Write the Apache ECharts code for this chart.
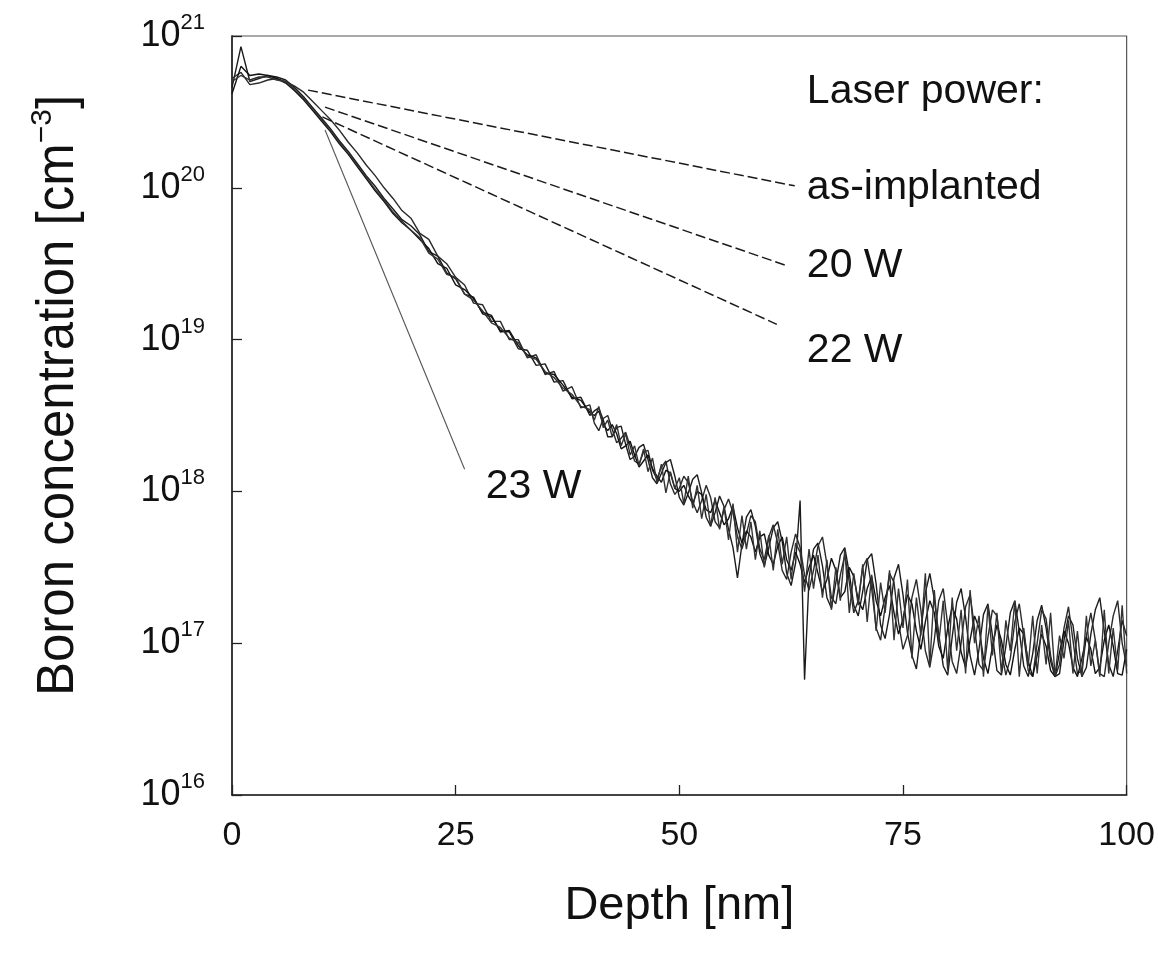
<!DOCTYPE html>
<html>
<head>
<meta charset="utf-8">
<script src="https://cdn.jsdelivr.net/npm/echarts@6/dist/echarts.min.js"></script>
<style>
  html, body { margin: 0; padding: 0; background: #fff; }
  #main { width: 1158px; height: 958px; }
</style>
</head>
<body>
<div id="main"></div>
<script>
// depth grid [nm]
var depth = [0,1,2,3,4,5,6,7,8,9,10,11,12,13,14,15,16,17,18,19,20,21,22,23,24,25,26,27,28,29,30,31,32,33,34,35,36,37,38,39,40,
  40.5,41,41.5,42,42.5,43,43.5,44,44.5,45,
  45.5,46,46.5,47,47.5,48,48.5,49,49.5,50,
  50.5,51,51.5,52,52.5,53,53.5,54,54.5,55,
  55.5,56,56.5,57,57.5,58,58.5,59,59.5,60,
  60.5,61,61.5,62,62.5,63,63.5,64,64.5,65,
  65.5,66,66.5,67,67.5,68,68.5,69,69.5,70,
  70.5,71,71.5,72,72.5,73,73.5,74,74.5,75,
  75.5,76,76.5,77,77.5,78,78.5,79,79.5,80,
  80.5,81,81.5,82,82.5,83,83.5,84,84.5,85,
  85.5,86,86.5,87,87.5,88,88.5,89,89.5,90,
  90.5,91,91.5,92,92.5,93,93.5,94,94.5,95,
  95.5,96,96.5,97,97.5,98,98.5,99,99.5,100];

// log10 of boron concentration
var logA = [20.66,20.93,20.70,20.72,20.74,20.73,20.71,20.66,20.60,20.53,20.46,20.39,20.31,20.24,20.16,20.08,20.01,19.93,19.86,19.79,
  19.75,19.69,19.58,19.55,19.44,19.40,19.30,19.28,19.17,19.15,19.06,19.05,18.94,18.93,18.83,18.84,18.72,18.73,18.61,18.62,18.50,
  18.53,18.55,18.47,18.36,18.36,18.42,18.43,18.31,18.21,18.23,
  18.29,18.31,18.21,18.09,18.05,18.12,18.19,18.21,18.10,17.96,
  17.91,17.99,18.08,18.11,17.99,17.83,17.77,17.86,17.97,17.90,
  17.75,17.63,17.43,17.65,17.83,17.88,17.77,17.59,17.51,17.63,
  17.76,17.80,17.67,17.46,17.38,17.53,17.94,16.76,17.43,17.62,
  17.66,17.51,17.30,17.23,17.40,17.58,17.63,17.46,17.25,17.18,
  17.34,17.55,17.59,17.39,17.12,17.03,17.19,17.43,17.52,17.32,
  17.07,16.92,16.83,17.08,17.33,17.46,17.29,17.06,16.85,16.79,
  17.04,17.27,17.36,17.17,16.92,16.79,16.96,17.19,17.26,17.05,
  16.82,16.79,16.98,17.20,17.28,17.08,16.85,16.78,16.93,17.15,
  17.25,17.10,16.88,16.78,16.80,17.02,17.18,17.12,16.90,16.78,
  16.84,17.06,17.22,17.30,17.08,16.86,16.78,16.95,17.15,17.05];

var logB = [20.72,20.76,20.68,20.69,20.71,20.72,20.70,20.67,20.63,20.57,20.51,20.45,20.38,20.30,20.23,20.15,20.08,20.00,19.93,19.85,
  19.80,19.70,19.66,19.55,19.50,19.41,19.36,19.24,19.23,19.12,19.12,19.00,19.00,18.88,18.90,18.77,18.79,18.66,18.69,18.55,18.57,
  18.45,18.40,18.48,18.50,18.41,18.32,18.35,18.39,18.30,18.20,
  18.18,18.26,18.27,18.14,18.08,18.16,18.20,18.05,17.98,18.02,
  18.10,18.06,17.93,17.86,17.94,18.04,17.96,17.80,17.76,17.88,
  17.95,17.86,17.70,17.62,17.72,17.84,17.80,17.62,17.55,17.70,
  17.78,17.66,17.48,17.42,17.60,17.72,17.63,17.45,17.35,17.48,
  17.64,17.70,17.52,17.30,17.26,17.45,17.58,17.40,17.20,17.28,
  17.50,17.56,17.36,17.10,17.02,17.24,17.46,17.40,17.14,16.96,
  17.05,17.30,17.42,17.22,16.95,16.84,17.02,17.28,17.36,17.12,
  16.88,16.80,17.00,17.24,17.32,17.10,16.86,16.82,17.04,17.22,
  17.18,16.95,16.79,16.90,17.14,17.26,17.05,16.82,16.78,17.00,
  17.22,17.16,16.92,16.78,16.86,17.10,17.24,17.02,16.80,16.82,
  17.05,17.20,17.02,16.80,16.78,17.00,17.18,17.28,17.00,16.85];

var logC = [20.62,20.80,20.74,20.75,20.74,20.72,20.69,20.64,20.58,20.51,20.44,20.37,20.29,20.22,20.14,20.06,19.98,19.91,19.83,19.77,
  19.72,19.66,19.60,19.50,19.47,19.36,19.33,19.27,19.18,19.16,19.05,19.06,18.96,18.90,18.88,18.78,18.77,18.70,18.62,18.60,18.52,
  18.50,18.53,18.44,18.40,18.44,18.38,18.28,18.30,18.33,18.24,
  18.16,18.20,18.24,18.15,18.10,18.06,18.14,18.12,18.02,18.00,
  18.04,17.97,17.92,18.00,17.98,17.88,17.86,17.94,17.86,17.78,
  17.82,17.90,17.76,17.66,17.74,17.70,17.60,17.70,17.72,17.58,
  17.52,17.64,17.70,17.55,17.48,17.60,17.52,17.40,17.50,17.58,
  17.46,17.34,17.42,17.56,17.48,17.30,17.34,17.50,17.44,17.28,
  17.22,17.36,17.44,17.28,17.18,17.30,17.38,17.20,17.06,17.16,
  17.32,17.26,17.08,16.96,17.14,17.28,17.20,16.98,16.90,17.10,
  17.24,17.16,16.94,16.84,17.02,17.18,17.10,16.90,16.80,16.98,
  17.12,17.02,16.86,16.79,16.96,17.10,17.06,16.88,16.78,16.92,
  17.06,16.98,16.82,16.78,16.94,17.08,17.00,16.84,16.78,16.90,
  17.04,16.96,16.80,16.84,17.02,17.12,16.98,16.80,16.79,16.96];

var logD = [20.70,20.74,20.71,20.73,20.73,20.71,20.70,20.65,20.59,20.52,20.45,20.38,20.30,20.23,20.15,20.07,19.99,19.92,19.84,19.78,
  19.72,19.67,19.57,19.53,19.43,19.41,19.30,19.26,19.19,19.11,19.08,19.01,18.98,18.89,18.87,18.79,18.75,18.68,18.64,18.56,18.54,
  18.47,18.56,18.42,18.47,18.36,18.44,18.30,18.38,18.24,18.30,
  18.17,18.28,18.13,18.22,18.06,18.18,17.99,18.13,18.02,18.09,
  17.92,18.10,17.89,18.04,17.82,17.98,17.77,17.96,17.75,17.90,
  17.68,17.92,17.60,17.84,17.62,17.80,17.55,17.74,17.50,17.71,
  17.48,17.75,17.52,17.70,17.42,17.66,17.60,17.34,17.62,17.36,
  17.58,17.30,17.55,17.22,17.50,17.28,17.62,17.20,17.46,17.25,
  17.52,17.14,17.45,17.08,17.40,17.20,17.48,17.02,17.36,17.10,
  17.42,16.90,17.30,17.05,17.46,16.86,17.35,17.00,17.28,16.82,
  17.30,16.95,17.22,16.80,17.35,17.00,17.18,16.78,17.25,16.92,
  17.20,16.80,17.15,16.95,17.28,16.78,17.10,16.85,17.18,16.80,
  17.12,16.86,17.20,16.78,17.05,16.90,17.15,16.80,17.08,16.78,
  17.18,16.85,17.02,16.78,17.22,16.80,17.10,16.82,17.25,16.80];

// leader lines [depth, concentration]
var leaderAsImpl = [[8.5, 4.4e20], [62.9, 1.03e20]];
var leader20 = [[10.4, 3.4e20], [61.8, 3.1e19]];
var leader22 = [[10.1, 2.93e20], [60.9, 1.26e19]];
var leader23 = [[10.4, 2.4e20], [26.0, 1.4e18]];

// annotation labels
var noteText = ['Laser power:', 'as-implanted', '20 W', '22 W', '23 W'];
var noteDepth = [64.2, 64.2, 64.2, 64.2, 28.3];
var noteConc = [4.3e20, 1.0e20, 3.06e19, 8.5e18, 1.07e18];

var yTicks = ['16', '17', '18', '19', '20', '21'];

var FONT = '"Liberation Sans", Arial, Helvetica, sans-serif';
var chart = echarts.init(document.getElementById('main'));

function profile(logs) {
  return depth.map(function (d, i) { return [d, Math.pow(10, logs[i])]; });
}

function leader(pts, dashed, width, color) {
  return {
    type: 'line', data: pts, symbol: 'none', silent: true, z: 3,
    lineStyle: { color: color, width: width, type: dashed ? [10, 4] : 'solid' }
  };
}

var profStyle = function (color) {
  return { color: color, width: 1.4 };
};

var option = {
  animation: false,
  backgroundColor: '#ffffff',
  grid: {
    left: 232, right: 31, top: 36, bottom: 163,
    show: true, borderColor: '#555', borderWidth: 1.2
  },
  xAxis: {
    type: 'value', min: 0, max: 100, interval: 25,
    name: 'Depth [nm]', nameLocation: 'middle', nameGap: 88,
    nameTextStyle: { fontFamily: FONT, fontSize: 47, color: '#111' },
    axisLine: { lineStyle: { color: '#222', width: 1.6 } },
    axisTick: { inside: true, length: 10, lineStyle: { color: '#222', width: 1.3 } },
    axisLabel: { fontFamily: FONT, fontSize: 34, color: '#111', margin: 24 },
    splitLine: { show: false }
  },
  yAxis: {
    type: 'log', logBase: 10, min: 1e16, max: 1e21, interval: 1,
    name: '{a|Boron concentration [cm}{s|−3}{a|]}',
    nameLocation: 'middle', nameGap: 142, nameRotate: 90,
    nameTextStyle: {
      padding: [0, 0, 0, 40],
      rich: {
        a: { fontFamily: FONT, fontSize: 51, color: '#111', lineHeight: 62 },
        s: { fontFamily: FONT, fontSize: 30, color: '#111', verticalAlign: 'top', lineHeight: 30 }
      }
    },
    axisLine: { lineStyle: { color: '#222', width: 1.6 } },
    axisTick: { inside: true, length: 10, lineStyle: { color: '#222', width: 1.3 } },
    axisLabel: {
      margin: 27,
      formatter: function (v) {
        var e = Math.round(Math.log10(v));
        return '{b|10}{s|' + yTicks[e - 16] + '}';
      },
      rich: {
        b: { fontFamily: FONT, fontSize: 36, color: '#111', lineHeight: 48 },
        s: { fontFamily: FONT, fontSize: 22, color: '#111', verticalAlign: 'top', lineHeight: 22 }
      }
    },
    splitLine: { show: false },
    minorTick: { show: false }
  },
  series: [
    { type: 'line', data: profile(logA), symbol: 'none', lineStyle: profStyle('#1c1c1c'), silent: true, z: 2 },
    { type: 'line', data: profile(logB), symbol: 'none', lineStyle: profStyle('#2a2a2a'), silent: true, z: 2 },
    { type: 'line', data: profile(logC), symbol: 'none', lineStyle: profStyle('#111111'), silent: true, z: 2 },
    { type: 'line', data: profile(logD), symbol: 'none', lineStyle: profStyle('#333333'), silent: true, z: 2 },
    leader(leaderAsImpl, true, 1.5, '#1a1a1a'),
    leader(leader20, true, 1.5, '#1a1a1a'),
    leader(leader22, true, 1.5, '#1a1a1a'),
    leader(leader23, false, 1.1, '#555'),
    {
      type: 'scatter', silent: true, symbolSize: 1, z: 5,
      itemStyle: { color: '#ffffff', opacity: 1 },
      data: noteText.map(function (t, i) { return { name: t, value: [noteDepth[i], noteConc[i]] }; }),
      label: {
        show: true, position: 'right', distance: 0, opacity: 1,
        formatter: '{b}', fontFamily: FONT, fontSize: 41, color: '#111'
      }
    }
  ]
};

chart.setOption(option);
</script>
</body>
</html>
